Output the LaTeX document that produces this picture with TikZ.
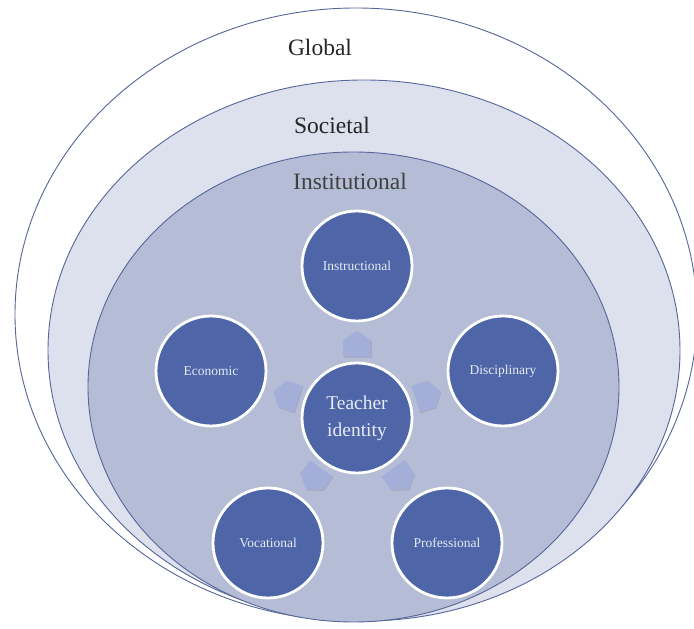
\documentclass[tikz,border=0pt]{standalone}
\usepackage{fontspec}
\setmainfont{Liberation Serif}
\usetikzlibrary{shadows,calc}
\definecolor{ringline}{HTML}{56659A}
\definecolor{socfill}{HTML}{DCE1ED}
\definecolor{instfill}{HTML}{B4BDD5}
\definecolor{circfill}{HTML}{4E66A8}
\definecolor{arrfill}{HTML}{A3AFD8}
\definecolor{lbltext}{HTML}{E6EAF4}
\begin{document}
\begin{tikzpicture}[x=1pt,y=1pt,
  ring/.style={draw=ringline, line width=0.9pt},
  bubble/.style={circle, fill=circfill, draw=white, line width=2.8pt, minimum size=110pt, inner sep=0pt,
    text=lbltext, font=\fontsize{13.5}{15}\selectfont, align=center,
    drop shadow={opacity=0.35, shadow xshift=0.8pt, shadow yshift=-1.2pt}},
  ringlabel/.style={font=\fontsize{23.5}{26}\selectfont, text=black!85},
  harrow/.pic={\fill[arrfill, drop shadow={opacity=0.3, shadow xshift=0.8pt, shadow yshift=-1pt}]
     (-14,-13) -- (14,-13) -- (14,3.5) -- (0,13) -- (-14,3.5) -- cycle;}]
\useasboundingbox (0,0) rectangle (694,629);
\clip (0,0) rectangle (694,629);
% nested rings
\path[ring, fill=white] (356,314.5) ellipse [x radius=341, y radius=306.5];
\path[ring, fill=socfill] (364,278.5) ellipse [x radius=316, y radius=270.5];
\path[ring, fill=instfill] (353.5,242) ellipse [x radius=265.5, y radius=235];
% ring labels
\node[ringlabel] (glob) at (320,582) {Global};
\node[ringlabel] (soc) at (332,504) {Societal};
\node[ringlabel, text=black!75] (inst) at (350,448) {Institutional};
% bubbles
\node[bubble, font=\fontsize{19.5}{27}\selectfont] (T) at (357,211) {Teacher\\identity};
\node[bubble] (I) at (357,363) {Instructional};
\node[bubble] (D) at (503,258) {Disciplinary};
\node[bubble] (E) at (211,258) {Economic};
\node[bubble] (V) at (268,86) {Vocational};
\node[bubble] (P) at (447,86) {Professional};
% arrows
\pic[rotate=0] at ($(T)!0.487!(I)$) {harrow};
\pic[rotate=-72] at ($(T)!0.487!(D)$) {harrow};
\pic[rotate=72] at ($(T)!0.487!(E)$) {harrow};
\pic[rotate=144] at ($(T)!0.487!(V)$) {harrow};
\pic[rotate=-144] at ($(T)!0.487!(P)$) {harrow};
\end{tikzpicture}
\end{document}
